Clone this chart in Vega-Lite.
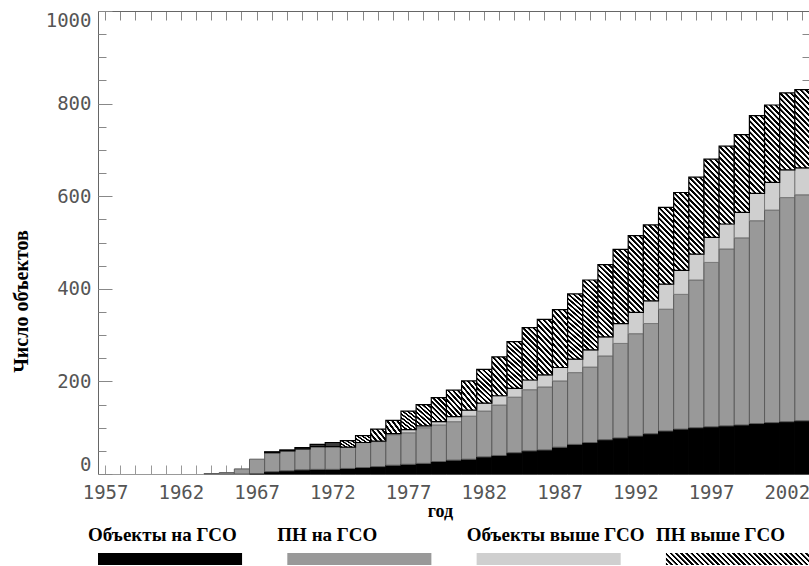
{
  "$schema": "https://vega.github.io/schema/vega-lite/v6.json",
  "background": "white",
  "padding": {"left": 11, "top": 10, "right": 0, "bottom": 0},
  "spacing": 5,
  "config": {
    "view": {"stroke": null},
    "axis": {"grid": false, "labelFont": "DejaVu Sans Mono", "labelFontSize": 19, "labelColor": "#555"}
  },
  "vconcat": [
    {
      "width": 712,
      "height": 463,
      "data": {"values": [
        {"year":1957,"a":0,"b":0,"c":0,"d":0},{"year":1958,"a":0,"b":0,"c":0,"d":0},{"year":1959,"a":0,"b":0,"c":0,"d":0},
        {"year":1960,"a":0,"b":0,"c":0,"d":0},{"year":1961,"a":0,"b":0,"c":0,"d":0},{"year":1962,"a":0,"b":0,"c":0,"d":0},
        {"year":1963,"a":0,"b":0,"c":0,"d":0},{"year":1964,"a":0,"b":1,"c":0,"d":0},{"year":1965,"a":0,"b":3,"c":0,"d":0},
        {"year":1966,"a":0,"b":11,"c":0,"d":0},{"year":1967,"a":1,"b":31,"c":0,"d":0},{"year":1968,"a":5,"b":41,"c":0,"d":2},
        {"year":1969,"a":7,"b":43,"c":0,"d":2},{"year":1970,"a":9,"b":45,"c":0,"d":3},{"year":1971,"a":10,"b":49,"c":0,"d":5},
        {"year":1972,"a":10,"b":49,"c":0,"d":9},{"year":1973,"a":12,"b":46,"c":0,"d":14},{"year":1974,"a":14,"b":54,"c":0,"d":15},
        {"year":1975,"a":16,"b":54,"c":1,"d":26},{"year":1976,"a":19,"b":66,"c":2,"d":29},{"year":1977,"a":21,"b":68,"c":7,"d":40},
        {"year":1978,"a":23,"b":77,"c":4,"d":46},{"year":1979,"a":27,"b":79,"c":7,"d":52},{"year":1980,"a":30,"b":83,"c":11,"d":57},
        {"year":1981,"a":32,"b":93,"c":13,"d":63},{"year":1982,"a":37,"b":99,"c":17,"d":73},{"year":1983,"a":40,"b":109,"c":20,"d":84},
        {"year":1984,"a":46,"b":120,"c":19,"d":101},{"year":1985,"a":50,"b":132,"c":21,"d":113},{"year":1986,"a":52,"b":136,"c":26,"d":120},
        {"year":1987,"a":58,"b":143,"c":29,"d":125},{"year":1988,"a":64,"b":155,"c":29,"d":141},{"year":1989,"a":68,"b":163,"c":37,"d":151},
        {"year":1990,"a":74,"b":181,"c":41,"d":156},{"year":1991,"a":78,"b":204,"c":43,"d":160},{"year":1992,"a":82,"b":221,"c":46,"d":166},
        {"year":1993,"a":87,"b":238,"c":49,"d":164},{"year":1994,"a":93,"b":263,"c":54,"d":166},{"year":1995,"a":97,"b":291,"c":52,"d":168},
        {"year":1996,"a":100,"b":319,"c":56,"d":166},{"year":1997,"a":102,"b":355,"c":54,"d":169},{"year":1998,"a":104,"b":382,"c":54,"d":168},
        {"year":1999,"a":106,"b":404,"c":55,"d":168},{"year":2000,"a":109,"b":438,"c":59,"d":168},{"year":2001,"a":111,"b":459,"c":60,"d":167},
        {"year":2002,"a":113,"b":484,"c":60,"d":166},{"year":2003,"a":115,"b":488,"c":58,"d":169}
      ]},
      "transform": [
        {"fold": ["a", "b", "c", "d"], "as": ["cat", "n"]},
        {"stack": "n", "groupby": ["year"], "sort": [{"field": "cat", "order": "ascending"}], "as": ["lo", "hi"]}
      ],
      "resolve": {"axis": {"x": "independent", "y": "independent"}},
      "layer": [
        {
          "transform": [{"filter": "datum.cat != 'd' && datum.n > 0"}],
          "mark": {"type": "bar", "strokeWidth": 1},
          "encoding": {
            "x": {"field": "year", "type": "ordinal",
              "scale": {"domain": [1957,1958,1959,1960,1961,1962,1963,1964,1965,1966,1967,1968,1969,1970,1971,1972,1973,1974,1975,1976,1977,1978,1979,1980,1981,1982,1983,1984,1985,1986,1987,1988,1989,1990,1991,1992,1993,1994,1995,1996,1997,1998,1999,2000,2001,2002,2003], "paddingInner": 0, "paddingOuter": 0},
              "axis": {"orient": "bottom", "title": "год", "titleFont": "Liberation Serif", "titleFontWeight": "bold", "titleFontSize": 18, "titleColor": "#000", "titlePadding": 0, "titleX": 342,
                "labelExpr": "(datum.value - 1957) % 5 == 0 ? datum.label : ''", "labelAngle": 0, "labelOverlap": false, "labelPadding": 9, "ticks": false, "domainColor": "#999"}},
            "y": {"field": "hi", "type": "quantitative",
              "scale": {"domain": [0, 1000], "nice": false, "zero": true},
              "axis": {"orient": "left", "values": [0, 200, 400, 600, 800, 1000], "format": "d", "ticks": false, "domainColor": "#666", "labelPadding": 7, "labelFlush": true,
                "title": "Число объектов", "titleFont": "Liberation Serif", "titleFontWeight": "bold", "titleFontSize": 20, "titleColor": "#000",
                "titleX": -77, "titleY": 290, "titleAngle": 270, "titleBaseline": "middle", "titleAlign": "center"}},
            "y2": {"field": "lo"},
            "fill": {"field": "cat", "type": "nominal", "scale": {"domain": ["a", "b", "c"], "range": ["#000000", "#999999", "#cfcfcf"]}, "legend": null},
            "stroke": {"field": "cat", "type": "nominal", "scale": {"domain": ["a", "b", "c"], "range": ["#000000", "#5c5c5c", "#7a7a7a"]}, "legend": null}
          }
        },
        {
          "transform": [{"filter": "datum.cat == 'd' && datum.n > 0 && datum.n < 12"}],
          "mark": {"type": "bar", "fill": "#3a3a3a", "stroke": "#000", "strokeWidth": 1.2},
          "encoding": {
            "x": {"field": "year", "type": "ordinal", "axis": {"orient": "top", "labels": false, "title": null, "domain": true, "domainColor": "#666", "ticks": true, "tickSize": -9, "tickColor": "#888"}},
            "y": {"field": "hi", "type": "quantitative", "axis": {"orient": "left", "values": [0, 200, 400, 600, 800, 1000], "labels": false, "domain": false, "title": null, "tickSize": -14, "tickColor": "#888"}},
            "y2": {"field": "lo"}
          }
        },
        {
          "transform": [{"filter": "datum.cat == 'd' && datum.n >= 12 && datum.n < 35"}],
          "mark": {"type": "bar", "stroke": "#000", "strokeWidth": 1.2,
            "fill": {"gradient": "linear", "x1": 0, "y1": 1, "x2": 1.1564, "y2": 0.2367, "stops": [
              {"offset":0,"color":"#000"},{"offset":0.08,"color":"#000"},{"offset":0.1,"color":"#fff"},{"offset":0.18,"color":"#fff"},
              {"offset":0.2,"color":"#000"},{"offset":0.28,"color":"#000"},{"offset":0.3,"color":"#fff"},{"offset":0.38,"color":"#fff"},
              {"offset":0.4,"color":"#000"},{"offset":0.48,"color":"#000"},{"offset":0.5,"color":"#fff"},{"offset":0.58,"color":"#fff"},
              {"offset":0.6,"color":"#000"},{"offset":0.68,"color":"#000"},{"offset":0.7,"color":"#fff"},{"offset":0.78,"color":"#fff"},
              {"offset":0.8,"color":"#000"},{"offset":0.88,"color":"#000"},{"offset":0.9,"color":"#fff"},{"offset":0.98,"color":"#fff"},
              {"offset":1,"color":"#000"}]}},
          "encoding": {
            "x": {"field": "year", "type": "ordinal", "axis": {"orient": "bottom", "labels": false, "title": null, "domain": false, "ticks": true, "tickSize": -9, "tickColor": "#999"}},
            "y": {"field": "hi", "type": "quantitative", "axis": {"orient": "left", "values": [50,100,150,200,250,300,350,400,450,500,550,600,650,700,750,800,850,900,950], "labels": false, "domain": false, "title": null, "tickSize": -8, "tickColor": "#888"}},
            "y2": {"field": "lo"}
          }
        },
        {
          "transform": [{"filter": "datum.cat == 'd' && datum.n >= 35 && datum.n < 70"}],
          "mark": {"type": "bar", "stroke": "#000", "strokeWidth": 1.2,
            "fill": {"gradient": "linear", "x1": 0, "y1": 1, "x2": 0.7363, "y2": -0.1665, "stops": [
              {"offset":0,"color":"#000"},{"offset":0.05,"color":"#000"},{"offset":0.0625,"color":"#fff"},{"offset":0.1125,"color":"#fff"},
              {"offset":0.125,"color":"#000"},{"offset":0.175,"color":"#000"},{"offset":0.1875,"color":"#fff"},{"offset":0.2375,"color":"#fff"},
              {"offset":0.25,"color":"#000"},{"offset":0.3,"color":"#000"},{"offset":0.3125,"color":"#fff"},{"offset":0.3625,"color":"#fff"},
              {"offset":0.375,"color":"#000"},{"offset":0.425,"color":"#000"},{"offset":0.4375,"color":"#fff"},{"offset":0.4875,"color":"#fff"},
              {"offset":0.5,"color":"#000"},{"offset":0.55,"color":"#000"},{"offset":0.5625,"color":"#fff"},{"offset":0.6125,"color":"#fff"},
              {"offset":0.625,"color":"#000"},{"offset":0.675,"color":"#000"},{"offset":0.6875,"color":"#fff"},{"offset":0.7375,"color":"#fff"},
              {"offset":0.75,"color":"#000"},{"offset":0.8,"color":"#000"},{"offset":0.8125,"color":"#fff"},{"offset":0.8625,"color":"#fff"},
              {"offset":0.875,"color":"#000"},{"offset":0.925,"color":"#000"},{"offset":0.9375,"color":"#fff"},{"offset":0.9875,"color":"#fff"},
              {"offset":1,"color":"#000"}]}},
          "encoding": {
            "x": {"field": "year", "type": "ordinal", "axis": null},
            "y": {"field": "hi", "type": "quantitative", "axis": {"orient": "right", "values": [50,100,150,200,250,300,350,400,450,500,550,600,650,700,750,800,850,900,950], "labels": false, "domain": true, "domainColor": "#666", "title": null, "tickSize": -8, "tickColor": "#888"}},
            "y2": {"field": "lo"}
          }
        },
        {
          "transform": [{"filter": "datum.cat == 'd' && datum.n >= 70 && datum.n < 95"}],
          "mark": {"type": "bar", "stroke": "#000", "strokeWidth": 1.2,
            "fill": {"gradient": "linear", "x1": 0, "y1": 1, "x2": 0.508, "y2": -0.2071, "stops": [
              {"offset":0,"color":"#000"},{"offset":0.04,"color":"#000"},{"offset":0.05,"color":"#fff"},{"offset":0.09,"color":"#fff"},
              {"offset":0.1,"color":"#000"},{"offset":0.14,"color":"#000"},{"offset":0.15,"color":"#fff"},{"offset":0.19,"color":"#fff"},
              {"offset":0.2,"color":"#000"},{"offset":0.24,"color":"#000"},{"offset":0.25,"color":"#fff"},{"offset":0.29,"color":"#fff"},
              {"offset":0.3,"color":"#000"},{"offset":0.34,"color":"#000"},{"offset":0.35,"color":"#fff"},{"offset":0.39,"color":"#fff"},
              {"offset":0.4,"color":"#000"},{"offset":0.44,"color":"#000"},{"offset":0.45,"color":"#fff"},{"offset":0.49,"color":"#fff"},
              {"offset":0.5,"color":"#000"},{"offset":0.54,"color":"#000"},{"offset":0.55,"color":"#fff"},{"offset":0.59,"color":"#fff"},
              {"offset":0.6,"color":"#000"},{"offset":0.64,"color":"#000"},{"offset":0.65,"color":"#fff"},{"offset":0.69,"color":"#fff"},
              {"offset":0.7,"color":"#000"},{"offset":0.74,"color":"#000"},{"offset":0.75,"color":"#fff"},{"offset":0.79,"color":"#fff"},
              {"offset":0.8,"color":"#000"},{"offset":0.84,"color":"#000"},{"offset":0.85,"color":"#fff"},{"offset":0.89,"color":"#fff"},
              {"offset":0.9,"color":"#000"},{"offset":0.94,"color":"#000"},{"offset":0.95,"color":"#fff"},{"offset":0.99,"color":"#fff"},
              {"offset":1,"color":"#000"}]}},
          "encoding": {
            "x": {"field": "year", "type": "ordinal", "axis": null},
            "y": {"field": "hi", "type": "quantitative", "axis": null},
            "y2": {"field": "lo"}
          }
        },
        {
          "transform": [{"filter": "datum.cat == 'd' && datum.n >= 95 && datum.n < 135"}],
          "mark": {"type": "bar", "stroke": "#000", "strokeWidth": 1.2,
            "fill": {"gradient": "linear", "x1": 0, "y1": 1, "x2": 0.3468, "y2": -0.1903, "stops": [
              {"offset":0,"color":"#000"},{"offset":0.0308,"color":"#000"},{"offset":0.0385,"color":"#fff"},{"offset":0.0692,"color":"#fff"},
              {"offset":0.0769,"color":"#000"},{"offset":0.1077,"color":"#000"},{"offset":0.1154,"color":"#fff"},{"offset":0.1462,"color":"#fff"},
              {"offset":0.1538,"color":"#000"},{"offset":0.1846,"color":"#000"},{"offset":0.1923,"color":"#fff"},{"offset":0.2231,"color":"#fff"},
              {"offset":0.2308,"color":"#000"},{"offset":0.2615,"color":"#000"},{"offset":0.2692,"color":"#fff"},{"offset":0.3,"color":"#fff"},
              {"offset":0.3077,"color":"#000"},{"offset":0.3385,"color":"#000"},{"offset":0.3462,"color":"#fff"},{"offset":0.3769,"color":"#fff"},
              {"offset":0.3846,"color":"#000"},{"offset":0.4154,"color":"#000"},{"offset":0.4231,"color":"#fff"},{"offset":0.4538,"color":"#fff"},
              {"offset":0.4615,"color":"#000"},{"offset":0.4923,"color":"#000"},{"offset":0.5,"color":"#fff"},{"offset":0.5308,"color":"#fff"},
              {"offset":0.5385,"color":"#000"},{"offset":0.5692,"color":"#000"},{"offset":0.5769,"color":"#fff"},{"offset":0.6077,"color":"#fff"},
              {"offset":0.6154,"color":"#000"},{"offset":0.6462,"color":"#000"},{"offset":0.6538,"color":"#fff"},{"offset":0.6846,"color":"#fff"},
              {"offset":0.6923,"color":"#000"},{"offset":0.7231,"color":"#000"},{"offset":0.7308,"color":"#fff"},{"offset":0.7615,"color":"#fff"},
              {"offset":0.7692,"color":"#000"},{"offset":0.8,"color":"#000"},{"offset":0.8077,"color":"#fff"},{"offset":0.8385,"color":"#fff"},
              {"offset":0.8462,"color":"#000"},{"offset":0.8769,"color":"#000"},{"offset":0.8846,"color":"#fff"},{"offset":0.9154,"color":"#fff"},
              {"offset":0.9231,"color":"#000"},{"offset":0.9538,"color":"#000"},{"offset":0.9615,"color":"#fff"},{"offset":0.9923,"color":"#fff"},
              {"offset":1,"color":"#000"}]}},
          "encoding": {
            "x": {"field": "year", "type": "ordinal", "axis": null},
            "y": {"field": "hi", "type": "quantitative", "axis": null},
            "y2": {"field": "lo"}
          }
        },
        {
          "transform": [{"filter": "datum.cat == 'd' && datum.n >= 135"}],
          "mark": {"type": "bar", "stroke": "#000", "strokeWidth": 1.2,
            "fill": {"gradient": "linear", "x1": 0, "y1": 1, "x2": 0.2333, "y2": -0.1549, "stops": [
              {"offset":0,"color":"#000"},{"offset":0.0235,"color":"#000"},{"offset":0.0294,"color":"#fff"},{"offset":0.0529,"color":"#fff"},
              {"offset":0.0588,"color":"#000"},{"offset":0.0824,"color":"#000"},{"offset":0.0882,"color":"#fff"},{"offset":0.1118,"color":"#fff"},
              {"offset":0.1176,"color":"#000"},{"offset":0.1412,"color":"#000"},{"offset":0.1471,"color":"#fff"},{"offset":0.1706,"color":"#fff"},
              {"offset":0.1765,"color":"#000"},{"offset":0.2,"color":"#000"},{"offset":0.2059,"color":"#fff"},{"offset":0.2294,"color":"#fff"},
              {"offset":0.2353,"color":"#000"},{"offset":0.2588,"color":"#000"},{"offset":0.2647,"color":"#fff"},{"offset":0.2882,"color":"#fff"},
              {"offset":0.2941,"color":"#000"},{"offset":0.3176,"color":"#000"},{"offset":0.3235,"color":"#fff"},{"offset":0.3471,"color":"#fff"},
              {"offset":0.3529,"color":"#000"},{"offset":0.3765,"color":"#000"},{"offset":0.3824,"color":"#fff"},{"offset":0.4059,"color":"#fff"},
              {"offset":0.4118,"color":"#000"},{"offset":0.4353,"color":"#000"},{"offset":0.4412,"color":"#fff"},{"offset":0.4647,"color":"#fff"},
              {"offset":0.4706,"color":"#000"},{"offset":0.4941,"color":"#000"},{"offset":0.5,"color":"#fff"},{"offset":0.5235,"color":"#fff"},
              {"offset":0.5294,"color":"#000"},{"offset":0.5529,"color":"#000"},{"offset":0.5588,"color":"#fff"},{"offset":0.5824,"color":"#fff"},
              {"offset":0.5882,"color":"#000"},{"offset":0.6118,"color":"#000"},{"offset":0.6176,"color":"#fff"},{"offset":0.6412,"color":"#fff"},
              {"offset":0.6471,"color":"#000"},{"offset":0.6706,"color":"#000"},{"offset":0.6765,"color":"#fff"},{"offset":0.7,"color":"#fff"},
              {"offset":0.7059,"color":"#000"},{"offset":0.7294,"color":"#000"},{"offset":0.7353,"color":"#fff"},{"offset":0.7588,"color":"#fff"},
              {"offset":0.7647,"color":"#000"},{"offset":0.7882,"color":"#000"},{"offset":0.7941,"color":"#fff"},{"offset":0.8176,"color":"#fff"},
              {"offset":0.8235,"color":"#000"},{"offset":0.8471,"color":"#000"},{"offset":0.8529,"color":"#fff"},{"offset":0.8765,"color":"#fff"},
              {"offset":0.8824,"color":"#000"},{"offset":0.9059,"color":"#000"},{"offset":0.9118,"color":"#fff"},{"offset":0.9353,"color":"#fff"},
              {"offset":0.9412,"color":"#000"},{"offset":0.9647,"color":"#000"},{"offset":0.9706,"color":"#fff"},{"offset":0.9941,"color":"#fff"},
              {"offset":1,"color":"#000"}]}},
          "encoding": {
            "x": {"field": "year", "type": "ordinal", "axis": null},
            "y": {"field": "hi", "type": "quantitative", "axis": null},
            "y2": {"field": "lo"}
          }
        }
      ]
    },
    {
      "width": 712,
      "height": 12,
      "data": {"values": [
        {"key": "a", "label": "Объекты на ГСО"},
        {"key": "b", "label": "ПН на ГСО"},
        {"key": "c", "label": "Объекты выше ГСО"},
        {"key": "d", "label": "ПН выше ГСО"}
      ]},
      "layer": [
        {
          "transform": [{"filter": "datum.key != 'd'"}],
          "mark": {"type": "rect"},
          "encoding": {
            "x": {"field": "label", "type": "nominal",
              "scale": {"type": "band", "domain": ["Объекты на ГСО", "ПН на ГСО", "Объекты выше ГСО", "ПН выше ГСО"], "paddingInner": 0.239, "paddingOuter": 0},
              "axis": {"orient": "top", "title": null, "domain": false, "ticks": false, "labelAngle": 0, "labelAlign": "left", "labelOffset": -82,
                "labelPadding": 13, "labelBaseline": "alphabetic", "labelFont": "Liberation Serif", "labelFontWeight": "bold", "labelFontSize": 19, "labelColor": "#000", "labelLimit": 0, "labelOverlap": false}},
            "fill": {"field": "key", "type": "nominal", "scale": {"domain": ["a", "b", "c"], "range": ["#000000", "#999999", "#cccccc"]}, "legend": null}
          }
        },
        {
          "transform": [{"filter": "datum.key == 'd'"}],
          "mark": {"type": "rect",
            "fill": {"gradient": "linear", "x1": 0, "y1": 1, "x2": 1.0759, "y2": 0.9103, "stops": [
              {"offset":0,"color":"#000"},{"offset":0.0133,"color":"#000"},{"offset":0.0167,"color":"#fff"},{"offset":0.03,"color":"#fff"},
              {"offset":0.0333,"color":"#000"},{"offset":0.0467,"color":"#000"},{"offset":0.05,"color":"#fff"},{"offset":0.0633,"color":"#fff"},
              {"offset":0.0667,"color":"#000"},{"offset":0.08,"color":"#000"},{"offset":0.0833,"color":"#fff"},{"offset":0.0967,"color":"#fff"},
              {"offset":0.1,"color":"#000"},{"offset":0.1133,"color":"#000"},{"offset":0.1167,"color":"#fff"},{"offset":0.13,"color":"#fff"},
              {"offset":0.1333,"color":"#000"},{"offset":0.1467,"color":"#000"},{"offset":0.15,"color":"#fff"},{"offset":0.1633,"color":"#fff"},
              {"offset":0.1667,"color":"#000"},{"offset":0.18,"color":"#000"},{"offset":0.1833,"color":"#fff"},{"offset":0.1967,"color":"#fff"},
              {"offset":0.2,"color":"#000"},{"offset":0.2133,"color":"#000"},{"offset":0.2167,"color":"#fff"},{"offset":0.23,"color":"#fff"},
              {"offset":0.2333,"color":"#000"},{"offset":0.2467,"color":"#000"},{"offset":0.25,"color":"#fff"},{"offset":0.2633,"color":"#fff"},
              {"offset":0.2667,"color":"#000"},{"offset":0.28,"color":"#000"},{"offset":0.2833,"color":"#fff"},{"offset":0.2967,"color":"#fff"},
              {"offset":0.3,"color":"#000"},{"offset":0.3133,"color":"#000"},{"offset":0.3167,"color":"#fff"},{"offset":0.33,"color":"#fff"},
              {"offset":0.3333,"color":"#000"},{"offset":0.3467,"color":"#000"},{"offset":0.35,"color":"#fff"},{"offset":0.3633,"color":"#fff"},
              {"offset":0.3667,"color":"#000"},{"offset":0.38,"color":"#000"},{"offset":0.3833,"color":"#fff"},{"offset":0.3967,"color":"#fff"},
              {"offset":0.4,"color":"#000"},{"offset":0.4133,"color":"#000"},{"offset":0.4167,"color":"#fff"},{"offset":0.43,"color":"#fff"},
              {"offset":0.4333,"color":"#000"},{"offset":0.4467,"color":"#000"},{"offset":0.45,"color":"#fff"},{"offset":0.4633,"color":"#fff"},
              {"offset":0.4667,"color":"#000"},{"offset":0.48,"color":"#000"},{"offset":0.4833,"color":"#fff"},{"offset":0.4967,"color":"#fff"},
              {"offset":0.5,"color":"#000"},{"offset":0.5133,"color":"#000"},{"offset":0.5167,"color":"#fff"},{"offset":0.53,"color":"#fff"},
              {"offset":0.5333,"color":"#000"},{"offset":0.5467,"color":"#000"},{"offset":0.55,"color":"#fff"},{"offset":0.5633,"color":"#fff"},
              {"offset":0.5667,"color":"#000"},{"offset":0.58,"color":"#000"},{"offset":0.5833,"color":"#fff"},{"offset":0.5967,"color":"#fff"},
              {"offset":0.6,"color":"#000"},{"offset":0.6133,"color":"#000"},{"offset":0.6167,"color":"#fff"},{"offset":0.63,"color":"#fff"},
              {"offset":0.6333,"color":"#000"},{"offset":0.6467,"color":"#000"},{"offset":0.65,"color":"#fff"},{"offset":0.6633,"color":"#fff"},
              {"offset":0.6667,"color":"#000"},{"offset":0.68,"color":"#000"},{"offset":0.6833,"color":"#fff"},{"offset":0.6967,"color":"#fff"},
              {"offset":0.7,"color":"#000"},{"offset":0.7133,"color":"#000"},{"offset":0.7167,"color":"#fff"},{"offset":0.73,"color":"#fff"},
              {"offset":0.7333,"color":"#000"},{"offset":0.7467,"color":"#000"},{"offset":0.75,"color":"#fff"},{"offset":0.7633,"color":"#fff"},
              {"offset":0.7667,"color":"#000"},{"offset":0.78,"color":"#000"},{"offset":0.7833,"color":"#fff"},{"offset":0.7967,"color":"#fff"},
              {"offset":0.8,"color":"#000"},{"offset":0.8133,"color":"#000"},{"offset":0.8167,"color":"#fff"},{"offset":0.83,"color":"#fff"},
              {"offset":0.8333,"color":"#000"},{"offset":0.8467,"color":"#000"},{"offset":0.85,"color":"#fff"},{"offset":0.8633,"color":"#fff"},
              {"offset":0.8667,"color":"#000"},{"offset":0.88,"color":"#000"},{"offset":0.8833,"color":"#fff"},{"offset":0.8967,"color":"#fff"},
              {"offset":0.9,"color":"#000"},{"offset":0.9133,"color":"#000"},{"offset":0.9167,"color":"#fff"},{"offset":0.93,"color":"#fff"},
              {"offset":0.9333,"color":"#000"},{"offset":0.9467,"color":"#000"},{"offset":0.95,"color":"#fff"},{"offset":0.9633,"color":"#fff"},
              {"offset":0.9667,"color":"#000"},{"offset":0.98,"color":"#000"},{"offset":0.9833,"color":"#fff"},{"offset":0.9967,"color":"#fff"},
              {"offset":1,"color":"#000"}]}},
          "encoding": {
            "x": {"field": "label", "type": "nominal"}
          }
        }
      ]
    }
  ]
}
